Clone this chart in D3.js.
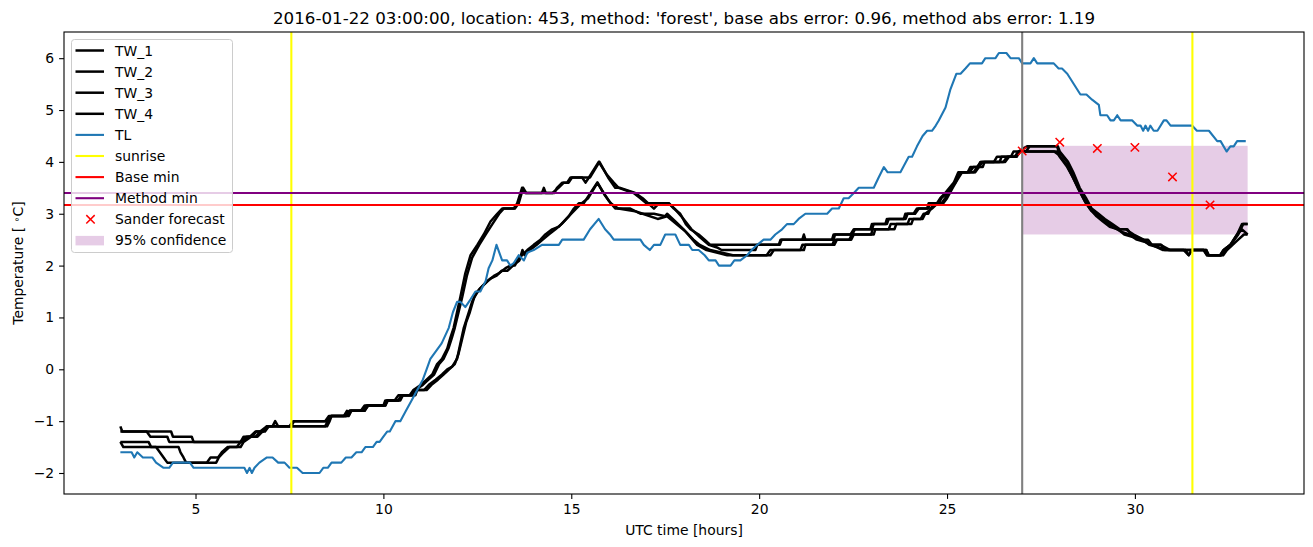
<!DOCTYPE html>
<html>
<head>
<meta charset="utf-8">
<script src="https://cdn.jsdelivr.net/npm/d3@7"></script>
<style>
  body { margin: 0; background: #fff; }
  text { font-family: "DejaVu Sans", sans-serif; fill: #000; }
</style>
</head>
<body>
<div id="chart"></div>
<script>
// Chart size and axes box (pixels, like the saved matplotlib figure)
var width = 1313, height = 547;
var margin = { top: 32, right: 9, bottom: 53, left: 64 };

// ---- data: [hour, temperature] ----
var tw1 = [[3.0,-1.1],[3.05,-1.2],[3.7,-1.2],[3.8,-1.3],[4.25,-1.3],[4.3,-1.4],[6.2,-1.4],[6.28,-1.3],[6.45,-1.3],[6.6,-1.2],[6.8,-1.2],[6.9,-1.1],[7.05,-1.1],[7.12,-1.0],[7.2,-1.1],[7.55,-1.1],[7.62,-1.0],[8.5,-1.0],[8.6,-0.9],[9.0,-0.9],[9.1,-0.8],[9.4,-0.8],[9.5,-0.7],[10.0,-0.7],[10.05,-0.6],[10.3,-0.6],[10.4,-0.5],[10.7,-0.5],[10.8,-0.4],[11.0,-0.3],[11.15,-0.2],[11.3,-0.1],[11.43,0.1],[11.56,0.2],[11.7,0.4],[11.78,0.6],[11.87,0.8],[11.96,1.1],[12.05,1.4],[12.18,1.85],[12.32,2.2],[12.5,2.4],[12.67,2.6],[12.85,2.85],[13.03,3.0],[13.16,3.1],[13.47,3.1],[13.56,3.2],[13.69,3.5],[13.78,3.4],[14.22,3.4],[14.27,3.5],[14.32,3.4],[14.55,3.4],[14.62,3.5],[14.76,3.6],[14.89,3.6],[14.98,3.7],[15.29,3.7],[15.38,3.6],[15.47,3.7],[15.73,4.0],[15.95,3.75],[16.13,3.6],[16.26,3.5],[16.66,3.4],[16.84,3.3],[17.0,3.2],[17.6,3.2],[17.73,3.1],[17.9,3.0],[18.05,2.8],[18.17,2.7],[18.39,2.6],[18.55,2.5],[18.7,2.4],[20.52,2.4],[20.57,2.5],[21.15,2.5],[21.19,2.6],[21.23,2.5],[21.94,2.5],[21.98,2.6],[22.43,2.6],[22.52,2.7],[22.96,2.7],[23.0,2.8],[23.36,2.8],[23.4,2.9],[23.85,2.9],[23.89,3.0],[24.11,3.0],[24.2,3.1],[24.47,3.1],[24.51,3.2],[24.73,3.2],[24.82,3.3],[24.95,3.4],[25.18,3.6],[25.3,3.8],[25.71,3.8],[25.8,3.9],[25.9,4.0],[26.5,4.0],[26.6,4.1],[26.8,4.1],[26.9,4.2],[27.13,4.3],[27.93,4.3],[27.97,4.2],[28.2,4.0],[28.33,3.8],[28.5,3.5],[28.68,3.3],[28.82,3.1],[29.0,3.0],[29.17,2.9],[29.35,2.8],[29.57,2.7],[29.75,2.7],[29.97,2.6],[30.23,2.5],[30.41,2.4],[30.68,2.4],[30.94,2.3],[31.3,2.3],[31.43,2.2],[31.52,2.3],[31.83,2.3],[31.92,2.2],[32.27,2.2],[32.36,2.3],[32.54,2.4],[32.72,2.6],[32.85,2.8],[33.0,2.8]];
var tw2 = [[3.0,-1.2],[4.35,-1.2],[4.4,-1.3],[4.9,-1.3],[4.95,-1.4],[6.25,-1.4],[6.35,-1.3],[6.5,-1.3],[6.62,-1.2],[6.85,-1.2],[6.95,-1.1],[8.45,-1.1],[8.52,-1.0],[8.62,-0.9],[8.95,-0.9],[9.03,-0.8],[9.08,-0.9],[9.15,-0.8],[9.5,-0.8],[9.6,-0.7],[10.05,-0.7],[10.1,-0.6],[10.4,-0.6],[10.48,-0.5],[10.75,-0.5],[10.85,-0.4],[11.05,-0.3],[11.2,-0.2],[11.35,-0.1],[11.48,0.1],[11.6,0.2],[11.73,0.4],[11.82,0.6],[11.9,0.8],[12.0,1.1],[12.1,1.4],[12.22,1.8],[12.36,2.15],[12.55,2.4],[12.72,2.6],[12.9,2.8],[13.08,3.0],[13.2,3.1],[13.5,3.1],[13.6,3.2],[13.72,3.5],[13.8,3.4],[14.5,3.4],[14.66,3.5],[14.8,3.6],[14.93,3.6],[15.02,3.7],[15.5,3.7],[15.75,4.0],[15.98,3.7],[16.17,3.5],[16.3,3.5],[16.7,3.4],[16.9,3.3],[17.05,3.2],[17.2,3.1],[17.33,3.2],[17.6,3.2],[17.75,3.1],[17.93,2.95],[18.2,2.7],[18.42,2.55],[18.66,2.4],[18.88,2.35],[19.0,2.3],[19.9,2.3],[19.95,2.4],[20.55,2.4],[20.6,2.5],[21.98,2.5],[22.02,2.6],[22.48,2.6],[22.55,2.7],[23.0,2.7],[23.05,2.8],[23.4,2.8],[23.45,2.9],[23.9,2.9],[23.95,3.0],[24.15,3.0],[24.25,3.1],[24.5,3.1],[24.55,3.2],[24.78,3.2],[24.85,3.3],[25.0,3.4],[25.2,3.6],[25.35,3.8],[25.75,3.8],[25.85,3.9],[25.95,4.0],[26.55,4.0],[26.65,4.1],[26.85,4.1],[26.95,4.2],[27.1,4.2],[27.2,4.3],[27.95,4.3],[28.0,4.2],[28.22,4.0],[28.36,3.8],[28.53,3.5],[28.7,3.3],[28.85,3.1],[29.03,3.0],[29.2,2.9],[29.4,2.8],[29.6,2.7],[29.8,2.7],[29.9,2.6],[30.2,2.5],[30.35,2.5],[30.45,2.4],[30.7,2.4],[30.8,2.3],[31.9,2.3],[31.97,2.2],[32.3,2.2],[32.4,2.3],[32.55,2.4],[32.75,2.6],[32.88,2.8],[33.0,2.8]];
var tw3 = [[3.0,-1.4],[3.08,-1.5],[3.95,-1.5],[4.05,-1.6],[4.15,-1.7],[4.25,-1.8],[5.3,-1.8],[5.4,-1.7],[5.6,-1.7],[5.7,-1.6],[5.85,-1.5],[6.1,-1.5],[6.2,-1.4],[6.4,-1.3],[6.6,-1.3],[6.72,-1.2],[6.9,-1.1],[7.5,-1.1],[7.6,-1.0],[8.45,-1.0],[8.55,-0.9],[9.0,-0.9],[9.1,-0.8],[9.45,-0.8],[9.55,-0.7],[10.0,-0.7],[10.1,-0.6],[10.4,-0.6],[10.5,-0.5],[10.78,-0.5],[10.81,-0.4],[11.08,-0.4],[11.21,-0.3],[11.39,-0.2],[11.56,-0.1],[11.7,0.0],[11.83,0.05],[11.96,0.2],[12.05,0.5],[12.14,0.8],[12.23,1.0],[12.36,1.3],[12.5,1.5],[12.63,1.6],[12.76,1.7],[12.94,1.8],[13.07,1.85],[13.25,1.95],[13.38,2.0],[13.5,2.0],[13.56,2.1],[13.69,2.2],[13.83,2.3],[14.0,2.4],[14.18,2.5],[14.31,2.6],[14.49,2.7],[14.67,2.75],[14.8,2.85],[14.93,2.95],[15.07,3.1],[15.2,3.2],[15.33,3.2],[15.51,3.4],[15.69,3.6],[15.86,3.4],[16.0,3.25],[16.17,3.1],[16.57,3.1],[16.84,3.0],[17.2,3.0],[17.5,2.95],[17.55,3.0],[17.77,2.85],[17.99,2.7],[18.17,2.55],[18.35,2.4],[18.6,2.3],[19.15,2.2],[20.3,2.2],[20.39,2.3],[21.19,2.3],[21.23,2.4],[22.0,2.4],[22.07,2.5],[22.45,2.5],[22.52,2.6],[23.05,2.6],[23.09,2.7],[23.45,2.7],[23.5,2.8],[23.95,2.8],[24.0,2.9],[24.3,2.9],[24.38,3.0],[24.5,3.0],[24.56,3.1],[24.69,3.2],[24.85,3.2],[24.95,3.3],[25.1,3.5],[25.22,3.6],[25.35,3.8],[25.55,3.8],[25.62,3.9],[25.82,3.9],[25.89,4.0],[26.25,4.0],[26.33,4.1],[26.7,4.1],[26.77,4.2],[27.85,4.2],[27.95,4.15],[28.18,3.95],[28.32,3.75],[28.48,3.5],[28.66,3.25],[28.8,3.1],[28.98,2.95],[29.15,2.85],[29.33,2.75],[29.55,2.7],[29.72,2.6],[29.95,2.55],[30.2,2.5],[30.38,2.4],[30.65,2.35],[30.9,2.3],[31.35,2.3],[31.43,2.2],[31.52,2.3],[31.83,2.3],[31.92,2.2],[32.27,2.2],[32.36,2.3],[32.54,2.4],[32.72,2.6],[32.85,2.7],[33.0,2.6]];
var tw4 = [[3.0,-1.4],[3.75,-1.4],[3.82,-1.5],[4.55,-1.5],[4.6,-1.6],[4.68,-1.7],[4.75,-1.8],[5.55,-1.8],[5.62,-1.7],[5.75,-1.6],[5.9,-1.5],[6.2,-1.5],[6.28,-1.4],[6.48,-1.3],[6.65,-1.3],[6.78,-1.2],[6.95,-1.1],[8.5,-1.1],[8.57,-1.0],[8.62,-0.9],[9.05,-0.9],[9.12,-0.8],[9.5,-0.8],[9.58,-0.7],[10.05,-0.7],[10.12,-0.6],[10.45,-0.6],[10.52,-0.5],[10.85,-0.5],[10.9,-0.4],[11.15,-0.4],[11.28,-0.3],[11.45,-0.2],[11.6,-0.1],[11.75,0.0],[11.9,0.1],[12.0,0.3],[12.1,0.6],[12.2,0.9],[12.3,1.1],[12.42,1.4],[12.56,1.55],[12.7,1.65],[12.85,1.75],[13.0,1.8],[13.15,1.9],[13.3,1.9],[13.45,2.0],[13.62,2.1],[13.7,2.3],[13.76,2.2],[13.9,2.3],[14.08,2.4],[14.24,2.5],[14.4,2.6],[14.58,2.7],[14.74,2.8],[14.87,2.9],[15.0,3.0],[15.13,3.1],[15.27,3.2],[15.45,3.3],[15.7,3.6],[15.9,3.35],[16.05,3.2],[16.25,3.1],[16.7,3.05],[16.9,3.0],[17.3,2.9],[17.55,2.95],[17.8,2.8],[18.05,2.65],[18.25,2.5],[18.42,2.4],[18.7,2.3],[19.3,2.2],[20.2,2.2],[20.3,2.3],[21.1,2.3],[21.15,2.4],[21.95,2.4],[22.0,2.5],[22.4,2.5],[22.47,2.6],[22.98,2.6],[23.02,2.7],[23.6,2.7],[23.65,2.8],[24.05,2.8],[24.1,2.9],[24.35,2.9],[24.42,3.0],[24.6,3.1],[24.75,3.2],[24.9,3.2],[25.0,3.3],[25.15,3.5],[25.27,3.65],[25.4,3.8],[25.6,3.8],[25.7,3.9],[25.95,3.9],[26.0,4.0],[26.4,4.0],[26.45,4.1],[26.85,4.1],[26.92,4.2],[27.95,4.2],[28.0,4.1],[28.2,3.9],[28.35,3.7],[28.52,3.45],[28.7,3.2],[28.85,3.05],[29.02,2.95],[29.2,2.85],[29.4,2.75],[29.65,2.65],[29.85,2.6],[30.05,2.5],[30.3,2.45],[30.45,2.4],[30.75,2.3],[31.9,2.3],[31.95,2.2],[32.35,2.2],[32.45,2.3],[32.6,2.4],[32.75,2.5],[32.9,2.6],[33.0,2.6]];
var tl = [[3.0,-1.6],[3.3,-1.6],[3.37,-1.7],[3.45,-1.6],[3.6,-1.7],[3.85,-1.7],[3.95,-1.8],[4.15,-1.9],[4.3,-1.9],[4.4,-1.8],[4.85,-1.8],[4.95,-1.9],[6.3,-1.9],[6.37,-2.0],[6.44,-1.9],[6.5,-2.0],[6.57,-1.9],[6.7,-1.8],[6.9,-1.7],[7.05,-1.7],[7.2,-1.8],[7.37,-1.8],[7.5,-1.9],[7.7,-1.9],[7.85,-2.0],[8.3,-2.0],[8.4,-1.9],[8.52,-1.9],[8.62,-1.8],[8.88,-1.8],[9.0,-1.7],[9.15,-1.7],[9.28,-1.6],[9.42,-1.6],[9.52,-1.5],[9.72,-1.5],[9.82,-1.4],[9.9,-1.4],[10.0,-1.3],[10.1,-1.2],[10.17,-1.2],[10.32,-1.0],[10.45,-1.0],[10.6,-0.8],[10.75,-0.6],[10.9,-0.4],[11.05,-0.2],[11.15,0.0],[11.25,0.2],[11.4,0.35],[11.55,0.5],[11.74,0.8],[11.85,1.1],[11.96,1.3],[12.05,1.3],[12.18,1.2],[12.32,1.35],[12.45,1.5],[12.58,1.5],[12.72,1.7],[12.8,1.95],[12.9,2.1],[13.01,2.4],[13.16,2.1],[13.29,2.1],[13.38,2.0],[13.47,2.05],[13.6,2.2],[13.74,2.1],[13.83,2.25],[14.0,2.3],[14.22,2.4],[14.67,2.4],[14.76,2.5],[15.33,2.5],[15.5,2.7],[15.73,2.9],[15.9,2.7],[16.03,2.6],[16.13,2.5],[16.84,2.5],[16.93,2.4],[17.09,2.3],[17.2,2.4],[17.37,2.4],[17.5,2.6],[17.77,2.6],[17.9,2.4],[18.13,2.4],[18.22,2.3],[18.39,2.3],[18.55,2.2],[18.66,2.1],[18.84,2.1],[18.93,2.0],[19.24,2.0],[19.34,2.1],[19.5,2.1],[19.68,2.2],[19.8,2.3],[19.95,2.4],[20.12,2.5],[20.3,2.5],[20.43,2.6],[20.61,2.7],[20.74,2.8],[20.92,2.8],[21.05,2.9],[21.23,3.0],[21.81,3.0],[21.94,3.1],[22.12,3.1],[22.25,3.3],[22.38,3.3],[22.52,3.4],[22.65,3.5],[23.05,3.5],[23.18,3.7],[23.32,3.9],[23.42,3.8],[23.76,3.8],[23.98,4.1],[24.07,4.1],[24.2,4.3],[24.35,4.5],[24.47,4.6],[24.6,4.6],[24.7,4.7],[24.78,4.8],[24.96,5.05],[25.09,5.4],[25.25,5.7],[25.36,5.7],[25.49,5.8],[25.61,5.9],[25.93,5.9],[26.02,6.0],[26.29,6.0],[26.38,6.1],[26.58,6.1],[26.69,6.0],[26.91,6.0],[27.0,5.9],[27.22,5.9],[27.31,6.0],[27.4,5.9],[27.84,5.9],[27.97,5.8],[28.06,5.8],[28.2,5.7],[28.55,5.3],[28.71,5.3],[28.86,5.2],[29.04,5.1],[29.08,4.9],[29.26,4.9],[29.35,4.8],[29.44,4.8],[29.53,4.9],[29.62,4.8],[29.93,4.8],[30.06,4.7],[30.15,4.7],[30.22,4.6],[30.28,4.7],[30.35,4.6],[30.41,4.7],[30.5,4.6],[30.6,4.6],[30.77,4.8],[30.84,4.8],[30.95,4.7],[31.52,4.7],[31.65,4.6],[31.97,4.6],[32.19,4.4],[32.28,4.4],[32.44,4.2],[32.54,4.3],[32.63,4.3],[32.72,4.4],[32.95,4.4]];

var sunrise = [7.55, 31.53];
var forecastStart = 27;
var baseMin = 3.17;
var methodMin = 3.40;
var forecastHours = [27, 28, 29, 30, 31, 32];
var forecastValues = [4.21, 4.38, 4.26, 4.28, 3.71, 3.17];
var confHours = [27, 33];
var confLow = 2.60, confHigh = 4.31;

var xTicks = [5, 10, 15, 20, 25, 30];
var yTicks = [-2, -1, 0, 1, 2, 3, 4, 5, 6];
var titleText = "2016-01-22 03:00:00, location: 453, method: 'forest', base abs error: 0.96, method abs error: 1.19";

var seriesNames = ["TW_1", "TW_2", "TW_3", "TW_4", "TL"];
var seriesData = [tw1, tw2, tw3, tw4, tl];
var seriesColors = ["#000000", "#000000", "#000000", "#000000", "#1f77b4"];

// line widths: 1.5pt at 100 dpi ~ 2.1px, TW a bit heavier
var twWidth = 2.5, lineWidth = 2.1;

// Create the SVG container
var svg = d3.select("#chart").append("svg")
    .attr("width", width)
    .attr("height", height);

svg.append("rect").attr("width", width).attr("height", height).attr("fill", "#fff");

var x = d3.scaleLinear().domain([1.5, 34.5]).range([margin.left, width - margin.right]);
var y = d3.scaleLinear().domain([-2.405, 6.505]).range([height - margin.bottom, margin.top]);

var x0 = x.range()[0], x1 = x.range()[1], y0 = y.range()[1], y1 = y.range()[0];

svg.append("clipPath").attr("id", "clip")
    .append("rect").attr("x", x0).attr("y", y0).attr("width", x1 - x0).attr("height", y1 - y0);

var plot = svg.append("g").attr("clip-path", "url(#clip)");

// 95% confidence band (drawn first, under the lines)
plot.append("rect")
    .attr("x", x(confHours[0]))
    .attr("y", y(confHigh))
    .attr("width", x(confHours[1]) - x(confHours[0]))
    .attr("height", y(confLow) - y(confHigh))
    .attr("fill", "purple")
    .attr("fill-opacity", 0.2);

var line = d3.line().x(d => x(d[0])).y(d => y(d[1]));

// Temperature series
seriesData.forEach(function (s, i) {
    plot.append("path")
        .datum(s)
        .attr("d", line)
        .attr("fill", "none")
        .attr("stroke", seriesColors[i])
        .attr("stroke-width", i < 4 ? twWidth : lineWidth)
        .attr("stroke-linejoin", "round");
});

// sunrise lines
plot.selectAll(".sunrise")
    .data(sunrise)
    .enter().append("line")
    .attr("x1", d => x(d)).attr("x2", d => x(d))
    .attr("y1", y0).attr("y2", y1)
    .attr("stroke", "yellow")
    .attr("stroke-width", lineWidth);

// base / method minimum
plot.append("line")
    .attr("x1", x0).attr("x2", x1)
    .attr("y1", y(baseMin)).attr("y2", y(baseMin))
    .attr("stroke", "red").attr("stroke-width", lineWidth);
plot.append("line")
    .attr("x1", x0).attr("x2", x1)
    .attr("y1", y(methodMin)).attr("y2", y(methodMin))
    .attr("stroke", "purple").attr("stroke-width", lineWidth);

// forecast start
plot.append("line")
    .attr("x1", x(forecastStart)).attr("x2", x(forecastStart))
    .attr("y1", y0).attr("y2", y1)
    .attr("stroke", "gray").attr("stroke-width", lineWidth);

// Sander forecast crosses
function cross(g, cx, cy, r) {
    g.append("path")
        .attr("d", `M${cx - r},${cy - r}L${cx + r},${cy + r}M${cx - r},${cy + r}L${cx + r},${cy - r}`)
        .attr("stroke", "red")
        .attr("stroke-width", 1.5)
        .attr("fill", "none");
}
forecastHours.forEach(function (h, i) {
    cross(plot, x(h), y(forecastValues[i]), 4.2);
});

// Axes
var xAxis = svg.append("g")
    .attr("transform", `translate(0, ${y1})`)
    .call(d3.axisBottom(x).tickValues(xTicks).tickSize(4.9).tickPadding(4.9).tickFormat(d3.format("d")));
var yAxis = svg.append("g")
    .attr("transform", `translate(${x0}, 0)`)
    .call(d3.axisLeft(y).tickValues(yTicks).tickSize(4.9).tickPadding(4.9)
        .tickFormat(d => (d < 0 ? "\u2212" + Math.abs(d) : d)));

[xAxis, yAxis].forEach(function (a) {
    a.select(".domain").remove();
    a.selectAll(".tick line").attr("stroke", "#000").attr("stroke-width", 1.1);
    a.selectAll("text")
        .style("font-family", "DejaVu Sans")
        .style("font-size", "13.9px")
        .attr("fill", "#000");
});

// spines
svg.append("rect")
    .attr("x", x0).attr("y", y0)
    .attr("width", x1 - x0).attr("height", y1 - y0)
    .attr("fill", "none").attr("stroke", "#000").attr("stroke-width", 1.1);

// Title and axis labels
svg.append("text")
    .attr("x", (x0 + x1) / 2).attr("y", 24)
    .attr("text-anchor", "middle")
    .style("font-size", "16.7px")
    .text(titleText);

svg.append("text")
    .attr("x", (x0 + x1) / 2).attr("y", 535)
    .attr("text-anchor", "middle")
    .style("font-size", "13.9px")
    .text("UTC time [hours]");

var yl = svg.append("text")
    .attr("transform", `translate(23, ${(y0 + y1) / 2}) rotate(-90)`)
    .attr("text-anchor", "middle")
    .style("font-size", "13.9px");
yl.append("tspan").text("Temperature [ ");
yl.append("tspan").attr("baseline-shift", "35%").style("font-size", "9.7px").text("\u2218");
yl.append("tspan").text("C]");

// Legend
var legendLabels = ["TW_1", "TW_2", "TW_3", "TW_4", "TL", "sunrise", "Base min", "Method min", "Sander forecast", "95% confidence"];
var legendKinds = ["line", "line", "line", "line", "line", "line", "line", "line", "cross", "patch"];
var legendColors = ["#000000", "#000000", "#000000", "#000000", "#1f77b4", "yellow", "red", "purple", "red", "purple"];

var leg = svg.append("g").attr("transform", "translate(71.5, 39.5)");
leg.append("rect")
    .attr("width", 161).attr("height", 213)
    .attr("rx", 3)
    .attr("fill", "#fff").attr("fill-opacity", 0.8)
    .attr("stroke", "#cccccc").attr("stroke-width", 1);

legendLabels.forEach(function (lab, i) {
    var cy = 11 + i * 21.1;
    if (legendKinds[i] === "line") {
        leg.append("line")
            .attr("x1", 4).attr("x2", 32.5)
            .attr("y1", cy).attr("y2", cy)
            .attr("stroke", legendColors[i])
            .attr("stroke-width", i < 4 ? twWidth : lineWidth);
    } else if (legendKinds[i] === "cross") {
        cross(leg, 19, cy, 4.2);
    } else {
        leg.append("rect")
            .attr("x", 4).attr("y", cy - 4.5)
            .attr("width", 28.5).attr("height", 9.5)
            .attr("fill", legendColors[i]).attr("fill-opacity", 0.2);
    }
    leg.append("text")
        .attr("x", 43.5).attr("y", cy + 5)
        .style("font-size", "13.9px")
        .text(lab);
});
</script>
</body>
</html>
